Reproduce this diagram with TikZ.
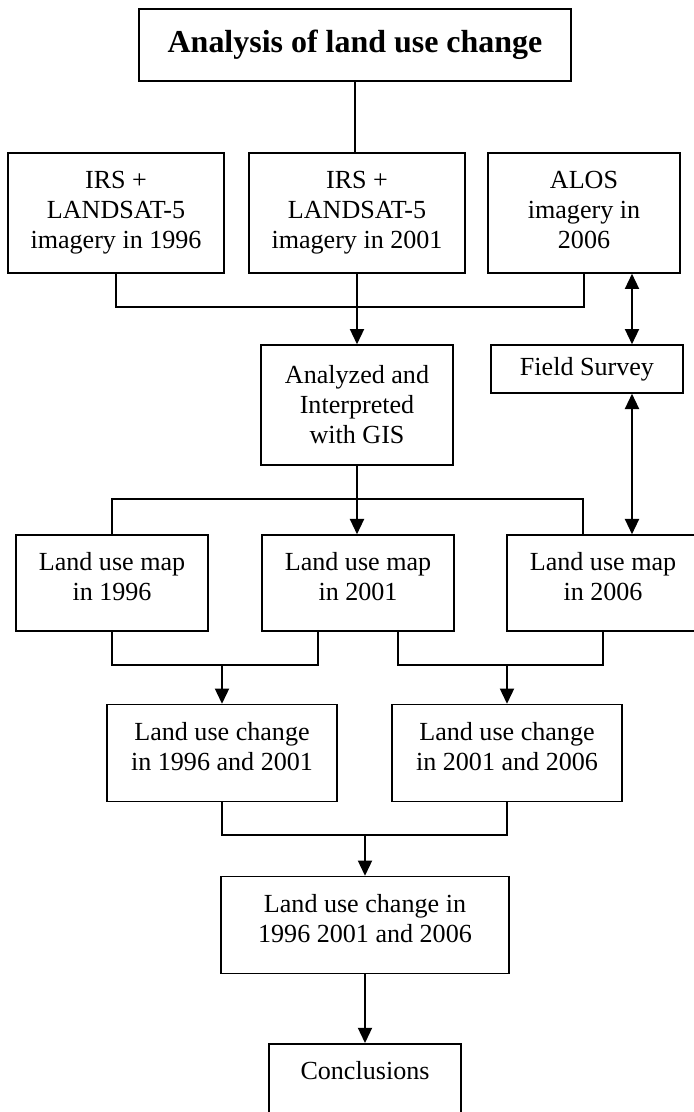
\documentclass[tikz,border=0pt]{standalone}
\usepackage{fontspec}
\setmainfont{Liberation Serif}
\usetikzlibrary{arrows.meta,calc,positioning}

\begin{document}
\begin{tikzpicture}
[
	              x = 0.46pt,
	              y = -0.46pt,
	     line width = 0.7pt,
	             >= {Triangle[length=7pt,width=6.5pt]},
	     box/.style = { draw=black, rectangle, align=center, inner sep=0pt,
	                    font=\fontsize{12}{13.8}\selectfont },
	   title/.style = { box, minimum width=198.7pt, minimum height=33.1pt,
	                    font=\bfseries\fontsize{14.7}{16}\selectfont },
	  imgbox/.style = { box, minimum width=99.4pt, minimum height=55.2pt },
	  stdbox/.style = { box, minimum width=88.3pt, minimum height=55.2pt },
	  mapbox/.style = { box, minimum width=88.3pt, minimum height=44.2pt, text depth=5.6pt },
	  chgbox/.style = { box, minimum width=105.8pt, minimum height=44.6pt, text depth=5.6pt }
]
	\useasboundingbox (0,0) rectangle (694,1112);

	% top
	% nodes
	\node (head)  at (355,45)  [title]  {Analysis of land use change};
	\node (img96) at (116,213) [imgbox] {IRS +\\LANDSAT-5\\imagery in 1996};
	\node (img01) at (357,213) [imgbox] {IRS +\\LANDSAT-5\\imagery in 2001};
	\node (img06) at (584,213) [stdbox, text depth=2.8pt] {ALOS\\imagery in\\2006};
	\node (gis)   at (357,405) [stdbox] {Analyzed and\\Interpreted\\with GIS};
	\node (field) at (587,369) [stdbox, minimum height=22.1pt] {Field Survey};

	\coordinate (j1) at (357,307);
	\coordinate (j2) at (357,499);

	% edges
	\draw (head.south) -- (head.south |- img01.north);
	\draw (img96.south) |- (j1) -| (img06.south);
	\draw (img01) -- (j1);
	\draw [->] (j1) -- (gis);
	\draw [<->] ($(img06.south)+(48,0)$) -- ($(field.north)+(45,0)$);

	% maps
	% nodes
	\node (map96) at (112,583) [mapbox] {Land use map\\in 1996};
	\node (map01) at (358,583) [mapbox] {Land use map\\in 2001};
	\node (map06) at (603,583) [mapbox] {Land use map\\in 2006};

	% edges
	\draw (map96.north) |- (j2) -| ($(map06.north)+(-20,0)$);
	\draw [->] (gis.south) -- (gis.south |- map01.north);
	\draw [<->] ($(field.south)+(45,0)$) -- ($(map06.north)+(29,0)$);

	% changes
	% nodes
	\node (chg1)   at (222,753) [chgbox] {Land use change\\in 1996 and 2001};
	\node (chg2)   at (507,753) [chgbox] {Land use change\\in 2001 and 2006};
	\node (chgall) at (365,925) [chgbox, minimum width=132.5pt] {Land use change in\\1996 2001 and 2006};
	\node (concl)  at (365,1043) [box, anchor=north, minimum width=88.3pt,
	                              text height=16.4pt, text depth=30pt] {Conclusions};

	\coordinate (j3) at (222,665);
	\coordinate (j4) at (507,665);
	\coordinate (j5) at (365,835);

	% edges
	\draw (map96.south) |- (j3) -| ($(map01.south)+(-40,0)$);
	\draw ($(map01.south)+(40,0)$) |- (j4) -| (map06.south);
	\draw [->] (j3) -- (chg1);
	\draw [->] (j4) -- (chg2);
	\draw (chg1.south) |- (j5) -| (chg2.south);
	\draw [->] (j5) -- (chgall);
	\draw [->] (chgall) -- (concl);
\end{tikzpicture}
\end{document}
